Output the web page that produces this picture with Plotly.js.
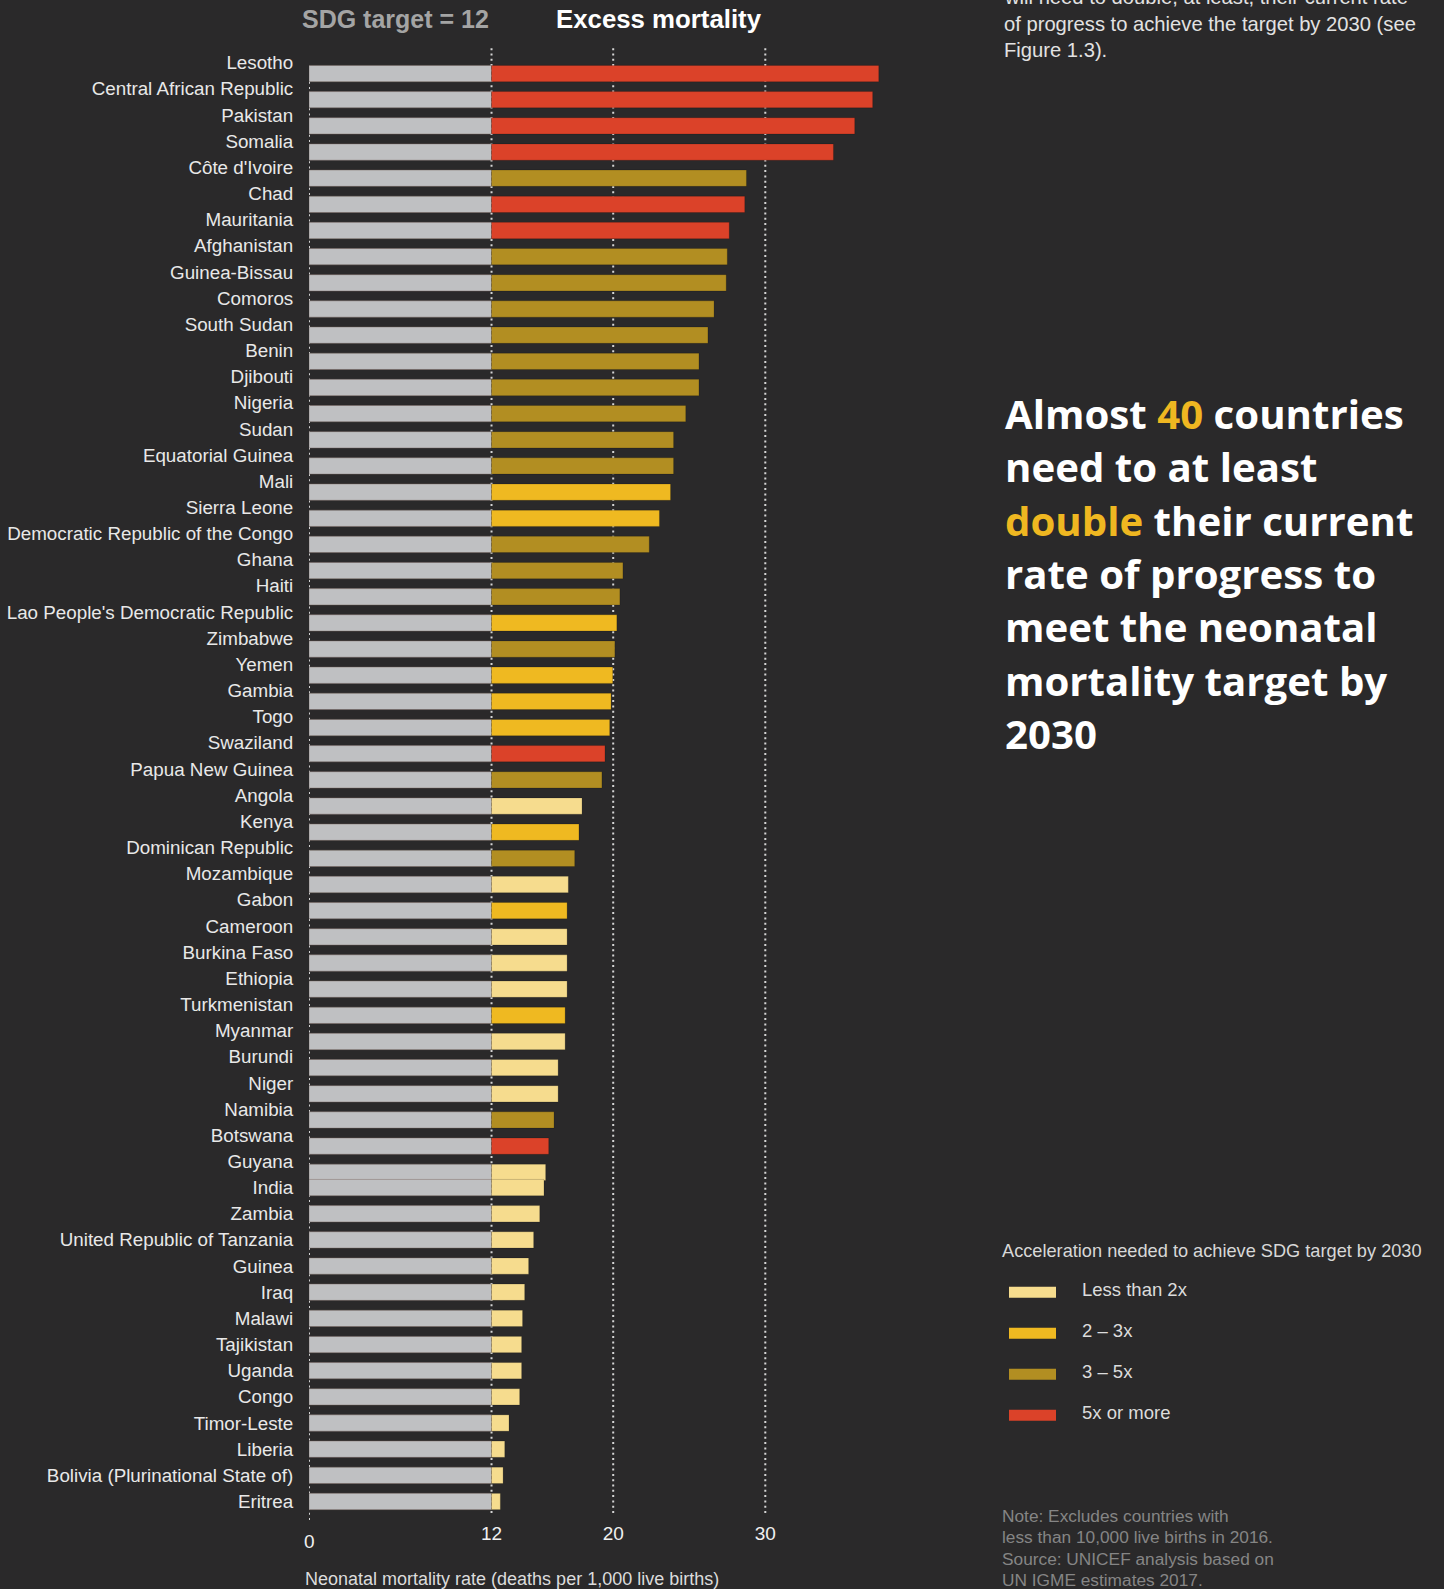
<!DOCTYPE html>
<html>
<head>
<meta charset="utf-8">
<script src="https://cdn.plot.ly/plotly-3.0.1.min.js"></script>
<style>
html,body{margin:0;padding:0;background:#2a292a;}
#chart{width:1444px;height:1589px;}
</style>
</head>
<body>
<div id="chart"></div>
<script>
// ---------------- DATA ----------------
const countries = [
  "Lesotho","Central African Republic","Pakistan","Somalia","Côte d'Ivoire","Chad","Mauritania",
  "Afghanistan","Guinea-Bissau","Comoros","South Sudan","Benin","Djibouti","Nigeria","Sudan",
  "Equatorial Guinea","Mali","Sierra Leone","Democratic Republic of the Congo","Ghana","Haiti",
  "Lao People's Democratic Republic","Zimbabwe","Yemen","Gambia","Togo","Swaziland",
  "Papua New Guinea","Angola","Kenya","Dominican Republic","Mozambique","Gabon","Cameroon",
  "Burkina Faso","Ethiopia","Turkmenistan","Myanmar","Burundi","Niger","Namibia","Botswana",
  "Guyana","India","Zambia","United Republic of Tanzania","Guinea","Iraq","Malawi","Tajikistan",
  "Uganda","Congo","Timor-Leste","Liberia","Bolivia (Plurinational State of)","Eritrea"
];
// Neonatal mortality rate (deaths per 1,000 live births)
const nmr = [
  37.46, 37.06, 35.88, 34.48, 28.76, 28.65, 27.63,
  27.50, 27.43, 26.63, 26.23, 25.64, 25.64, 24.77, 23.97,
  23.97, 23.77, 23.04, 22.37, 20.64, 20.44,
  20.24, 20.11, 19.97, 19.86, 19.77, 19.46,
  19.26, 17.95, 17.75, 17.47, 17.05, 16.97, 16.97,
  16.97, 16.97, 16.84, 16.84, 16.38, 16.38, 16.11, 15.76,
  15.56, 15.45, 15.17, 14.77, 14.44, 14.18, 14.04, 13.98,
  13.98, 13.85, 13.15, 12.87, 12.76, 12.58
];
// Acceleration needed: "lt2" = less than 2x, "2to3", "3to5", "5plus"
const acceleration = [
  "5plus","5plus","5plus","5plus","3to5","5plus","5plus",
  "3to5","3to5","3to5","3to5","3to5","3to5","3to5","3to5",
  "3to5","2to3","2to3","3to5","3to5","3to5",
  "2to3","3to5","2to3","2to3","2to3","5plus",
  "3to5","lt2","2to3","3to5","lt2","2to3","lt2",
  "lt2","lt2","2to3","lt2","lt2","lt2","3to5","5plus",
  "lt2","lt2","lt2","lt2","lt2","lt2","lt2","lt2",
  "lt2","lt2","lt2","lt2","lt2","lt2"
];
const sdgTarget = 12;
const xTickVals = [12, 20, 30];
const accelKeys = ["lt2", "2to3", "3to5", "5plus"];
const accelLabels = ["Less than 2x", "2 – 3x", "3 – 5x", "5x or more"];
const headlineLines = [
  "Almost <span style=\"color:{G}\">40</span> countries",
  "need to at least",
  "<span style=\"color:{G}\">double</span> their current",
  "rate of progress to",
  "meet the neonatal",
  "mortality target by",
  "2030"
];
const introLines = [
  "will need to double, at least, their current rate",
  "of progress to achieve the target by 2030 (see",
  "Figure 1.3)."
];
const noteLines = [
  "Note: Excludes countries with",
  "less than 10,000 live births in 2016.",
  "Source: UNICEF analysis based on",
  "UN IGME estimates 2017."
];

// ---------------- STYLE ----------------
const BG = "#2a292a";
const palette = { lt2: "#f6dc8e", "2to3": "#efb921", "3to5": "#b28e22", "5plus": "#db4229" };
const GRAY = "#bfc0c2";
const GOLD = "#efb721";
const FONT = "Liberation Sans, Arial, sans-serif";

const W = 1444, H = 1589;
const M = { l: 309, r: 484, t: 40, b: 69 };
const PW = W - M.l - M.r, PH = H - M.t - M.b;
const pxPerUnitX = 15.21, rowPx = 26.16, firstLabelY = 62.7;
const px2paper = x => (x - M.l) / PW;
const py2paper = y => (H - M.b - y) / PH;
const PADX = 3; // annotation inner padding compensation

const rows = countries.map((_, i) => i);
const barW = 0.623;
const shiftUntil = countries.indexOf("India");
const offsets = rows.map(i => (i < shiftUntil ? 0.415 : 0) - barW / 2);

const traces = [
  {
    type: "bar", orientation: "h",
    y: rows, x: rows.map(() => sdgTarget), base: 0,
    width: barW, offset: offsets,
    marker: { color: GRAY, line: { color: "rgba(120,100,95,0.55)", width: 0.8 } },
    hoverinfo: "skip", showlegend: false
  },
  {
    type: "bar", orientation: "h",
    y: rows, x: nmr.map(v => v - sdgTarget), base: sdgTarget,
    width: barW, offset: offsets,
    marker: { color: acceleration.map(a => palette[a]), line: { color: "rgba(0,0,0,0.22)", width: 0.8 } },
    hoverinfo: "skip", showlegend: false
  }
];

const dotDash = "2px,3.3px";
const shapes = [];
xTickVals.forEach(v => shapes.push({
  type: "line", layer: "below", xref: "x", yref: "paper",
  x0: v, x1: v, y0: py2paper(1513), y1: py2paper(46),
  line: { color: "#d4d4d4", width: 2, dash: dotDash }
}));
shapes.push({
  type: "line", layer: "below", xref: "x", yref: "paper",
  x0: 0, x1: 0, y0: py2paper(1520), y1: py2paper(66),
  line: { color: "#d4d4d4", width: 2, dash: dotDash }
});
accelKeys.forEach((k, j) => {
  const cy = 1292.3 + j * 41;
  shapes.push({
    type: "rect", xref: "paper", yref: "paper", layer: "above",
    x0: px2paper(1009), x1: px2paper(1056), y0: py2paper(cy + 5.5), y1: py2paper(cy - 5.5),
    fillcolor: palette[k], line: { width: 0 }
  });
});

const ann = (text, x, y, opts) => Object.assign({
  text, xref: "paper", yref: "paper", x: px2paper(x - PADX), y: py2paper(y),
  xanchor: "left", yanchor: "middle", showarrow: false, align: "left",
  font: { family: FONT, size: 18, color: "#dcdcdc" }
}, opts || {});

const annotations = [
  { text: "SDG target = 12", xref: "paper", yref: "paper", x: px2paper(395), y: py2paper(19.5),
    xanchor: "center", yanchor: "middle", showarrow: false,
    font: { family: FONT, size: 25, color: "#a4a4a4", weight: 700 } },
  { text: "Excess mortality", xref: "paper", yref: "paper", x: px2paper(659), y: py2paper(19.5),
    xanchor: "center", yanchor: "middle", showarrow: false,
    font: { family: FONT, size: 25.8, color: "#ffffff", weight: 700 } },
  ann("Acceleration needed to achieve SDG target by 2030", 1002.7, 1250.7, { font: { family: FONT, size: 18.2, color: "#d8d8d8" } }),
  ann("Neonatal mortality rate (deaths per 1,000 live births)", 306, 1579, { font: { family: FONT, size: 18, color: "#dcdcdc" } }),
  { text: "0", xref: "x", yref: "paper", x: 0, y: py2paper(1541.7), xanchor: "center", yanchor: "middle",
    showarrow: false, font: { family: FONT, size: 19, color: "#f0f0f0" } }
];
introLines.forEach((t, k) => annotations.push(
  ann(t, 1005, -2.6 + k * 26.2, { font: { family: FONT, size: 20.2, color: "#e2e2e2" } })));
headlineLines.forEach((t, k) => annotations.push(
  ann(t.replace(/\{G\}/g, GOLD), 1006, 413.5 + k * 53.37,
      { font: { family: "Open Sans, " + FONT, size: 40.2, color: "#ffffff", weight: 700 } })));
noteLines.forEach((t, k) => annotations.push(
  ann(t, 1002.7, 1516 + k * 21.3, { font: { family: FONT, size: 17.3, color: "#858585" } })));
accelKeys.forEach((k, j) => annotations.push(
  ann(accelLabels[j], 1083.3, 1289 + j * 41, { font: { family: FONT, size: 18.5, color: "#dcdcdc" } })));

const layout = {
  width: W, height: H,
  margin: M,
  paper_bgcolor: BG, plot_bgcolor: BG,
  barmode: "overlay",
  showlegend: false,
  xaxis: {
    range: [0, PW / pxPerUnitX],
    tickmode: "array", tickvals: xTickVals, ticktext: xTickVals.map(String),
    ticks: "", showgrid: false, zeroline: false, showline: false,
    tickfont: { family: FONT, size: 19, color: "#f0f0f0" },
    fixedrange: true
  },
  yaxis: {
    range: [(H - M.b - firstLabelY) / rowPx, (M.t - firstLabelY) / rowPx],
    tickmode: "array", tickvals: rows, ticktext: countries,
    ticks: "outside", ticklen: 11, tickcolor: "rgba(0,0,0,0)",
    showgrid: false, zeroline: false, showline: false,
    tickfont: { family: FONT, size: 18.8, color: "#e8e8e8" },
    fixedrange: true
  },
  shapes, annotations
};

Plotly.newPlot("chart", traces, layout, { displayModeBar: false, staticPlot: true });
</script>
</body>
</html>
